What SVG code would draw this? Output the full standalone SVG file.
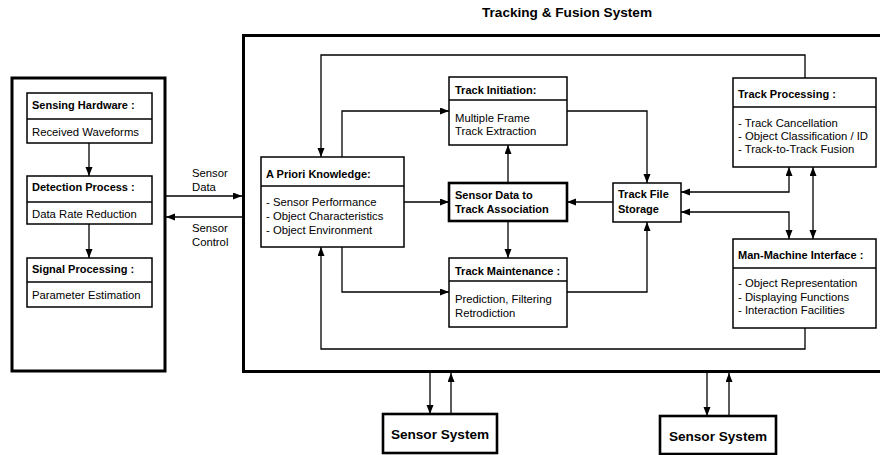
<svg xmlns="http://www.w3.org/2000/svg" width="880" height="455" viewBox="0 0 880 455">
<style>
text{font-family:"Liberation Sans",Arial,sans-serif;fill:#000}
.t{font-weight:bold;font-size:11px}
.b{font-size:11.3px}
.big{font-weight:bold;font-size:13.6px}
.box{fill:#fff;stroke:#000;stroke-width:1.5}
.thick{fill:#fff;stroke:#000;stroke-width:2.6}
.frame{fill:none;stroke:#000;stroke-width:3}
.div{stroke:#000;stroke-width:1.3}
#connectors path{fill:none;stroke:#000;stroke-width:1.3}
</style>
<defs>
<marker id="ah" markerUnits="userSpaceOnUse" markerWidth="10" markerHeight="8" refX="9" refY="3.5" orient="auto-start-reverse">
<path d="M0,0 L9,3.5 L0,7 z" fill="#000"/>
</marker>
</defs>

<text class="big" x="567" y="17" text-anchor="middle">Tracking &amp; Fusion System</text>

<g id="sensor-frame"><rect class="frame" x="12" y="78" width="153" height="293"/></g>
<g id="tracking-frame"><rect class="frame" x="243.5" y="35.5" width="640" height="336"/></g>

<g id="sensing-hardware">
<rect class="box" x="27" y="93" width="125" height="50"/>
<line class="div" x1="27" y1="119" x2="152" y2="119"/>
<text class="t" x="32" y="109">Sensing Hardware :</text>
<text class="b" x="32" y="136">Received Waveforms</text>
</g>
<g id="detection-process">
<rect class="box" x="27" y="176" width="125" height="48"/>
<line class="div" x1="27" y1="202" x2="152" y2="202"/>
<text class="t" x="32" y="191">Detection Process :</text>
<text class="b" x="32" y="217.5">Data Rate Reduction</text>
</g>
<g id="signal-processing">
<rect class="box" x="27" y="258" width="125" height="49"/>
<line class="div" x1="27" y1="282" x2="152" y2="282"/>
<text class="t" x="32" y="272.5">Signal Processing :</text>
<text class="b" x="32" y="299">Parameter Estimation</text>
</g>

<g id="a-priori">
<rect class="box" x="261" y="157" width="143" height="90"/>
<line class="div" x1="261" y1="186" x2="404" y2="186"/>
<text class="t" x="266" y="178">A Priori Knowledge:</text>
<text class="b" x="266" y="206">- Sensor Performance</text>
<text class="b" x="266" y="220">- Object Characteristics</text>
<text class="b" x="266" y="234">- Object Environment</text>
</g>

<g id="track-initiation">
<rect class="box" x="449" y="77" width="118" height="68"/>
<line class="div" x1="449" y1="100" x2="567" y2="100"/>
<text class="t" x="455" y="94">Track Initiation:</text>
<text class="b" x="455" y="121.5">Multiple Frame</text>
<text class="b" x="455" y="135">Track Extraction</text>
</g>

<g id="association">
<rect class="thick" x="449" y="183" width="118" height="38"/>
<text class="t" x="455" y="199">Sensor Data to</text>
<text class="t" x="455" y="213">Track Association</text>
</g>

<g id="track-maintenance">
<rect class="box" x="449" y="258" width="118" height="69"/>
<line class="div" x1="449" y1="281" x2="567" y2="281"/>
<text class="t" x="455" y="275">Track Maintenance :</text>
<text class="b" x="455" y="303">Prediction, Filtering</text>
<text class="b" x="455" y="316.5">Retrodiction</text>
</g>

<g id="track-file-storage">
<rect class="box" x="613" y="183" width="68" height="39"/>
<text class="t" x="618" y="198">Track File</text>
<text class="t" x="618" y="213">Storage</text>
</g>

<g id="track-processing">
<rect class="box" x="733" y="78" width="143" height="89"/>
<line class="div" x1="733" y1="107" x2="876" y2="107"/>
<text class="t" x="738" y="98">Track Processing :</text>
<text class="b" x="738" y="127">- Track Cancellation</text>
<text class="b" x="738" y="140">- Object Classification / ID</text>
<text class="b" x="738" y="153">- Track-to-Track Fusion</text>
</g>

<g id="man-machine-interface">
<rect class="box" x="733" y="239" width="143" height="89"/>
<line class="div" x1="733" y1="268" x2="876" y2="268"/>
<text class="t" x="738" y="259">Man-Machine Interface :</text>
<text class="b" x="738" y="287">- Object Representation</text>
<text class="b" x="738" y="301">- Displaying Functions</text>
<text class="b" x="738" y="314">- Interaction Facilities</text>
</g>

<g id="sensor-system-1">
<rect class="thick" x="383" y="414" width="114" height="39"/>
<text class="big" x="440" y="439" text-anchor="middle">Sensor System</text>
</g>
<g id="sensor-system-2">
<rect class="thick" x="660" y="416" width="116" height="38"/>
<text class="big" x="718" y="441" text-anchor="middle">Sensor System</text>
</g>

<g id="connectors">
<path d="M89,143 V176" marker-end="url(#ah)"/>
<path d="M89,224 V258" marker-end="url(#ah)"/>
<path d="M165,196 H242" marker-end="url(#ah)"/>
<path d="M243,217 H166" marker-end="url(#ah)"/>
<path d="M805,78 V55 H321 V157" marker-end="url(#ah)"/>
<path d="M805,328 V349 H321 V247" marker-end="url(#ah)"/>
<path d="M342,157 V111 H449" marker-end="url(#ah)"/>
<path d="M404,202 H449" marker-end="url(#ah)"/>
<path d="M342,247 V292 H449" marker-end="url(#ah)"/>
<path d="M508,183 V145" marker-end="url(#ah)"/>
<path d="M508,221 V258" marker-end="url(#ah)"/>
<path d="M567,111 H647 V183" marker-end="url(#ah)"/>
<path d="M567,292 H647 V222" marker-end="url(#ah)"/>
<path d="M613,202 H567" marker-end="url(#ah)"/>
<path d="M789,167 V192 H681" marker-start="url(#ah)" marker-end="url(#ah)"/>
<path d="M789,239 V212 H681" marker-start="url(#ah)" marker-end="url(#ah)"/>
<path d="M813,167 V239" marker-start="url(#ah)" marker-end="url(#ah)"/>
<path d="M430,373 V414" marker-end="url(#ah)"/>
<path d="M451,414 V373" marker-end="url(#ah)"/>
<path d="M707,373 V416" marker-end="url(#ah)"/>
<path d="M729,416 V373" marker-end="url(#ah)"/>
</g>

<g id="labels">
<text class="b" x="192" y="177">Sensor</text>
<text class="b" x="192" y="191">Data</text>
<text class="b" x="192" y="232">Sensor</text>
<text class="b" x="192" y="246">Control</text>
</g>
</svg>
